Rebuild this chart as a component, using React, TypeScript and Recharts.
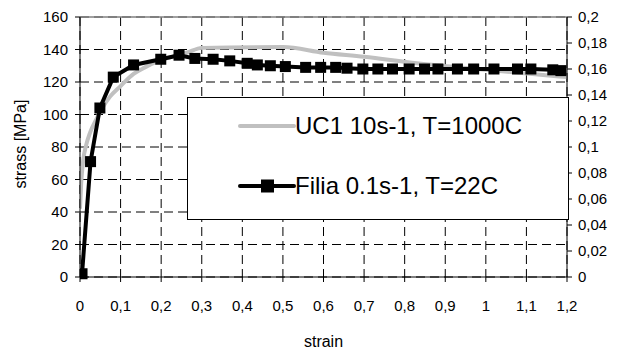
import React from 'react';
import {
  LineChart,
  Line,
  XAxis,
  YAxis,
  CartesianGrid,
  ReferenceLine,
  Legend,
  Label,
} from 'recharts';

// strain / stress [MPa]
const filiaStrain = [0.005, 0.026, 0.049, 0.082, 0.132, 0.199, 0.244, 0.283, 0.328, 0.369, 0.412, 0.437, 0.469, 0.506, 0.556, 0.593, 0.63, 0.658, 0.697, 0.734, 0.77, 0.811, 0.849, 0.882, 0.93, 0.97, 1.02, 1.078, 1.111, 1.165, 1.185];
const filiaStress = [2, 71, 104, 123, 130.5, 134, 136.5, 134.5, 134, 133, 131.5, 130.5, 130, 129.5, 129, 129, 129, 128.5, 128, 128, 128, 128, 128, 128, 128, 128, 128, 128, 128, 127.5, 127];

const ucStrain = [0, 0.003, 0.008, 0.015, 0.025, 0.041, 0.055, 0.074, 0.1, 0.132, 0.16, 0.189, 0.225, 0.263, 0.3, 0.5, 0.6, 0.7, 0.83, 1.0, 1.2];
const ucStress = [42, 58, 72, 81, 89, 97.5, 104, 111, 117.5, 125, 129, 132.5, 135.5, 138, 141, 141.5, 138, 135.5, 131.5, 127.5, 123];

const xTicks = [0, 0.1, 0.2, 0.3, 0.4, 0.5, 0.6, 0.7, 0.8, 0.9, 1, 1.1, 1.2];
const leftTicks = [0, 20, 40, 60, 80, 100, 120, 140, 160];
const rightTicks = [0, 0.02, 0.04, 0.06, 0.08, 0.1, 0.12, 0.14, 0.16, 0.18, 0.2];

const filiaData = filiaStrain.map((x, i) => ({ x, y: filiaStress[i] }));
const ucData = ucStrain.map((x, i) => ({ x, y: ucStress[i] }));
// same Filia curve expressed on the secondary (right) scale, drawn invisible so the axis shows
const filiaRight = filiaStrain.map((x, i) => ({ x, y: filiaStress[i] / 800 }));

const font = '"Liberation Sans", Arial, sans-serif';
const comma = (v: number) => String(v).replace('.', ',');

const SquareDot = (props: any) => {
  const { cx, cy, index } = props;
  if (cx == null || cy == null) return <g key={index} />;
  return <rect key={index} x={cx - 5.5} y={cy - 5.5} width={11} height={11} fill="#000" />;
};

const LegendBox = () => (
  <div
    style={{
      position: 'relative',
      width: 382,
      height: 123,
      boxSizing: 'border-box',
      border: '1px solid #000',
      background: '#fff',
      fontFamily: font,
      fontSize: 24,
      color: '#000',
    }}
  >
    <svg style={{ position: 'absolute', left: 50, top: 0 }} width={58} height={123}>
      <line x1={2} y1={28} x2={56} y2={28} stroke="#c0c0c0" strokeWidth={4} strokeLinecap="round" />
      <line x1={2} y1={88} x2={56} y2={88} stroke="#000" strokeWidth={4} strokeLinecap="round" />
      <rect x={23} y={81.5} width={13} height={13} fill="#000" />
    </svg>
    <div style={{ position: 'absolute', left: 107, top: 14, lineHeight: '28px', whiteSpace: 'nowrap' }}>
      UC1 10s-1, T=1000C
    </div>
    <div style={{ position: 'absolute', left: 107, top: 74, lineHeight: '28px', whiteSpace: 'nowrap' }}>
      Filia 0.1s-1, T=22C
    </div>
  </div>
);

export default function App() {
  const tick = { fill: '#000', fontSize: 15, fontFamily: font };
  return (
    <div style={{ position: 'absolute', left: 0, top: 0, width: 619, height: 349, background: '#fff' }}>
      <LineChart width={619} height={349} margin={{ top: 17, right: 0, bottom: 0, left: 0 }}>
        <CartesianGrid yAxisId="left" stroke="#000" strokeDasharray="9 5" />
        <XAxis
          type="number"
          dataKey="x"
          domain={[0, 1.2]}
          ticks={xTicks}
          tickFormatter={comma}
          height={72}
          stroke="#000"
          tick={tick}
          tickSize={5}
          tickMargin={18}
          allowDataOverflow
        >
          <Label value="strain" position="insideBottom" offset={2} fill="#000" fontSize={16} fontFamily={font} />
        </XAxis>
        <YAxis
          yAxisId="left"
          type="number"
          domain={[0, 160]}
          ticks={leftTicks}
          width={80}
          stroke="#000"
          tick={tick}
          tickSize={5}
          tickMargin={7}
        >
          <Label
            content={(p: any) => {
              const vb = p.viewBox;
              const cx = vb.x + 20;
              const cy = vb.y + vb.height / 2 - 3;
              return (
                <text
                  x={cx}
                  y={cy}
                  transform={`rotate(-90 ${cx} ${cy})`}
                  textAnchor="middle"
                  dominantBaseline="central"
                  fill="#000"
                  fontSize={16}
                  fontFamily={font}
                >
                  strass [MPa]
                </text>
              );
            }}
          />
        </YAxis>
        <YAxis
          yAxisId="right"
          orientation="right"
          type="number"
          domain={[0, 0.2]}
          ticks={rightTicks}
          tickFormatter={comma}
          width={52}
          stroke="#000"
          tick={tick}
          tickSize={5}
          tickMargin={6}
          allowDataOverflow
        />
        <ReferenceLine yAxisId="left" y={160} stroke="#808080" strokeWidth={1.5} />
        <Line
          yAxisId="right"
          data={filiaRight}
          dataKey="y"
          stroke="none"
          dot={false}
          activeDot={false}
          legendType="none"
          isAnimationActive={false}
        />
        <Line
          yAxisId="left"
          data={ucData}
          dataKey="y"
          type="monotone"
          stroke="#c0c0c0"
          strokeWidth={4}
          dot={false}
          isAnimationActive={false}
        />
        <Line
          yAxisId="left"
          data={filiaData}
          dataKey="y"
          type="linear"
          stroke="#000"
          strokeWidth={4}
          dot={SquareDot}
          isAnimationActive={false}
        />
        <Legend
          layout="vertical"
          align="center"
          verticalAlign="middle"
          content={() => <LegendBox />}
          wrapperStyle={{ left: 187, top: 97, width: 382, height: 123 }}
        />
      </LineChart>
    </div>
  );
}
